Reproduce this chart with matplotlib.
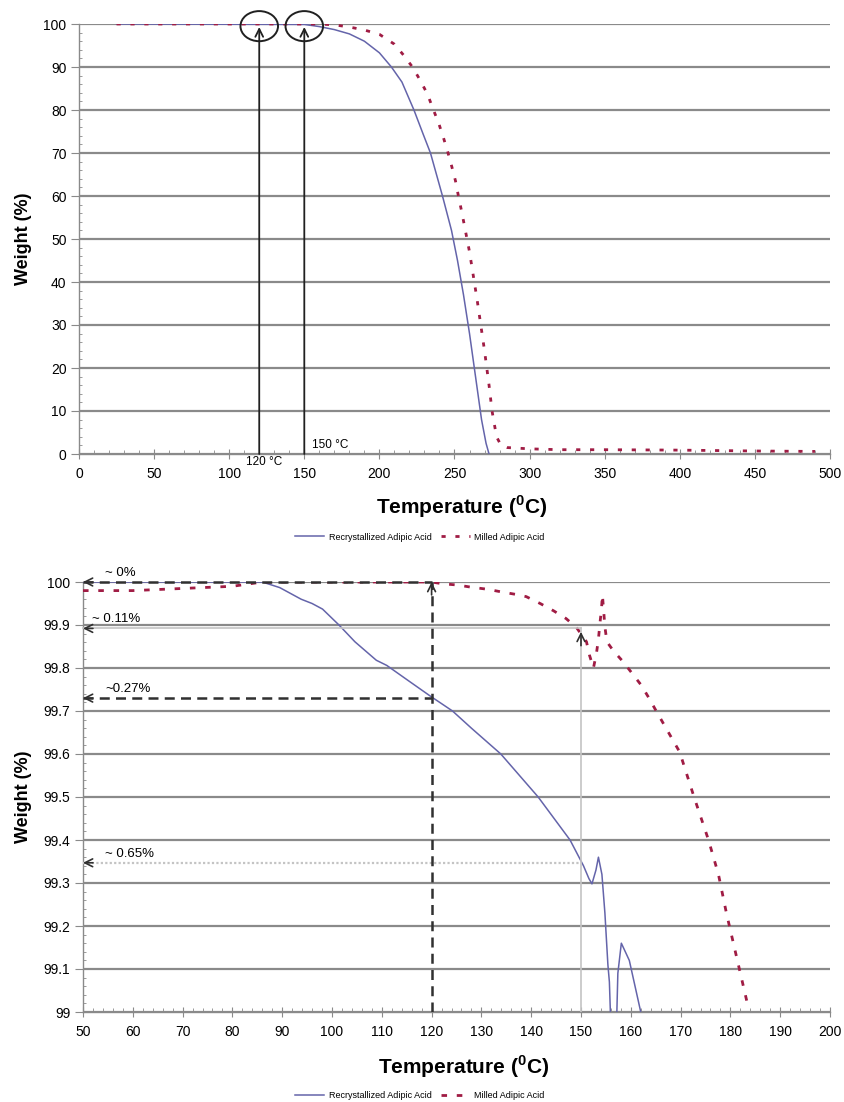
import matplotlib
matplotlib.use("Agg")
import matplotlib.pyplot as plt
from matplotlib.patches import Ellipse
from matplotlib.ticker import MultipleLocator

# ---- full scan (top panel) ----
t_recr = [25, 150, 160, 170, 180, 190, 200, 208, 215, 223, 229, 234, 242, 248,
          252, 256, 260, 264, 268, 271, 273]
w_recr = [100, 99.9, 99.4, 98.7, 97.7, 96, 93.3, 90, 86.5, 80, 74.5, 70, 60, 52,
          45, 37, 28, 18, 8, 2.5, 0]

t_mill = [25, 160, 170, 180, 190, 200, 210, 216, 222, 227, 232, 236, 239.4, 242.7,
          245.7, 248.3, 250.6, 252.6, 255, 260, 265, 270, 273, 275, 278, 281, 285,
          300, 320, 350, 400, 450, 490]
w_mill = [100, 100, 99.8, 99.3, 98.6, 97.6, 95.3, 92.8, 90, 87, 83.7, 80, 77, 73.5,
          70, 66.7, 63.6, 60, 56, 47, 36, 24, 16, 10, 4, 2, 1.5,
          1.2, 1.0, 1.0, 0.9, 0.7, 0.6]

onset_temps = [120, 150]
onset_labels = ["120 \u00b0C", "150 \u00b0C"]

# ---- zoomed scan (bottom panel) ----
tz_recr = [50, 86, 89.5, 93.8, 96, 98.1, 101.4, 104.6, 108.9, 111, 115.4, 119.7,
           124.2, 128, 133.9, 141.4, 147.8, 150.5, 151.6, 152.2, 153.0, 153.5,
           154.2, 154.8, 155.4, 155.7, 155.9, 156.3, 157.0, 157.2, 157.4, 158.1,
           159.7, 162]
wz_recr = [100, 100, 99.987, 99.96, 99.95, 99.937, 99.90, 99.861, 99.818, 99.806,
           99.77, 99.735, 99.70, 99.66, 99.60, 99.50, 99.40, 99.34, 99.31, 99.298,
           99.33, 99.36, 99.32, 99.23, 99.11, 99.07, 99.0, 98.5, 98.5, 99.0, 99.09,
           99.16, 99.12, 99.0]

tz_mill = [50, 60, 70, 80, 86, 120, 122.1, 125.2, 127.9, 131.3, 134, 137, 139,
           141.8, 144.5, 147, 149.1, 151.1, 151.7, 152.5, 153.1, 153.5, 153.8,
           154.1, 154.3, 154.8, 155.2, 156.5, 158.5, 160.3, 162.1, 163.6, 165.1,
           169.8, 172.7, 175.6, 177.6, 179.2, 180.8, 182.2, 183.6]
wz_mill = [99.98, 99.98, 99.985, 99.99, 100, 100, 99.996, 99.993, 99.988, 99.983,
           99.977, 99.971, 99.966, 99.95, 99.933, 99.915, 99.894, 99.861, 99.83,
           99.80, 99.834, 99.867, 99.904, 99.935, 99.97, 99.896, 99.861, 99.84,
           99.814, 99.787, 99.76, 99.731, 99.70, 99.605, 99.50, 99.40, 99.32,
           99.23, 99.15, 99.08, 99.01]

loss_levels = [100.0, 99.892, 99.73, 99.347]
loss_temps = [120, 150, 120, 150]
loss_labels = ["~ 0%", "~ 0.11%", "~0.27%", "~ 0.65%"]

BLUE = "#6464aa"
RED = "#a01c44"
GRID = "#8a8a8a"

plt.rcParams["font.family"] = ["Liberation Sans", "DejaVu Sans"]

fig = plt.figure(figsize=(8.45, 11.02), dpi=100)
ax1 = fig.add_axes([79 / 845, 1 - 454 / 1102, 751 / 845, 430 / 1102])
ax2 = fig.add_axes([83 / 845, 1 - 1012 / 1102, 747 / 845, 430 / 1102])


def style_axes(ax, xmaj, xmin, ymaj, ymin):
    for s in ("top", "right"):
        ax.spines[s].set_visible(False)
    for s in ("left", "bottom"):
        ax.spines[s].set_color(GRID)
        ax.spines[s].set_linewidth(1.0)
    ax.xaxis.set_major_locator(MultipleLocator(xmaj))
    ax.xaxis.set_minor_locator(MultipleLocator(xmin))
    ax.yaxis.set_major_locator(MultipleLocator(ymaj))
    ax.yaxis.set_minor_locator(MultipleLocator(ymin))
    ax.tick_params(axis="x", which="major", direction="inout", length=7,
                   color=GRID, labelsize=10, pad=6)
    ax.tick_params(axis="x", which="minor", direction="in", length=3, color=GRID)
    ax.tick_params(axis="y", which="major", direction="out", length=6,
                   color=GRID, labelsize=10, pad=3)
    ax.tick_params(axis="y", which="minor", direction="in", length=2.5, color=GRID)
    ax.yaxis.grid(True, which="major", color=GRID, lw=1.6)
    ax.set_axisbelow(True)


# ---------------- top panel ----------------
style_axes(ax1, 50, 10, 10, 2)
ax1.set_xlim(0, 500)
ax1.set_ylim(0, 100)
ax1.plot(t_recr, w_recr, color=BLUE, lw=1.1, label="Recrystallized Adipic Acid", zorder=3)
ax1.plot(t_mill, w_mill, color=RED, lw=2.0, ls=(0, (1.5, 3.5)),
         label="Milled Adipic Acid", zorder=4)

for t in onset_temps:
    ax1.annotate("", xy=(t, 99.3), xytext=(t, 0),
                 arrowprops=dict(arrowstyle="->", color="#202020", lw=1.3,
                                 mutation_scale=14, shrinkA=0, shrinkB=0), zorder=5)
    ax1.add_patch(Ellipse((t, 99.5), 25, 7, fill=False, ec="#202020", lw=1.4,
                          zorder=5, clip_on=False))

ax1.text(onset_temps[0] + 3, -1.9, onset_labels[0], fontsize=8.5, ha="center", va="center")
ax1.text(onset_temps[1] + 17.5, 2.1, onset_labels[1], fontsize=8.5, ha="center", va="center")

ax1.set_xlabel(r"Temperature ($^{\mathregular{0}}$C)", fontsize=15, fontweight="bold")
ax1.xaxis.set_label_coords(0.51, -0.123)
ax1.xaxis.label.set_va("center")
ax1.set_ylabel("Weight (%)", fontsize=13, fontweight="bold")
ax1.yaxis.set_label_coords(-0.074, 0.5)
ax1.yaxis.label.set_va("center")
ax1.legend(loc="center", bbox_to_anchor=(0.497, 1 - 537 / 1102),
           bbox_transform=fig.transFigure, ncol=2, frameon=False, fontsize=6.5,
           handlelength=3.2, columnspacing=1.0, handletextpad=0.5)

# ---------------- bottom panel ----------------
style_axes(ax2, 10, 2, 0.1, 0.02)
ax2.set_xlim(50, 200)
ax2.set_ylim(99, 100)
ax2.yaxis.set_major_formatter(plt.FuncFormatter(lambda v, p: f"{v:g}"))
ax2.plot(tz_recr, wz_recr, color=BLUE, lw=1.1, label="Recrystallized Adipic Acid", zorder=3)
ax2.plot(tz_mill, wz_mill, color=RED, lw=2.0, ls=(0, (2, 3.5)),
         label="Milled Adipic Acid", zorder=4)

line_styles = [
    dict(color="#303030", lw=1.8, ls=(0, (4, 2.5))),
    dict(color="#c4c4c4", lw=1.2, ls="-"),
    dict(color="#303030", lw=1.8, ls=(0, (4, 2.5))),
    dict(color="#c4c4c4", lw=1.6, ls=(0, (1, 1))),
]
head = dict(arrowstyle="->", color="#303030", lw=1.2, mutation_scale=14,
            shrinkA=0, shrinkB=0)
for lvl, t, lab, st in zip(loss_levels, loss_temps, loss_labels, line_styles):
    ax2.plot([50, t], [lvl, lvl], zorder=5, clip_on=False, **st)
    ax2.annotate("", xy=(50, lvl), xytext=(52, lvl), arrowprops=head, zorder=6,
                 annotation_clip=False)
    ax2.text(54.5 if lab != "~ 0.11%" else 51.8, lvl + 0.021, lab, fontsize=9.5,
             ha="left", va="center")

# vertical guides at 120 and 150 °C
ax2.plot([loss_temps[0]] * 2, [99, loss_levels[0]], zorder=5, **line_styles[0])
ax2.annotate("", xy=(loss_temps[0], loss_levels[0]), xytext=(loss_temps[0], loss_levels[0] - 0.03),
             arrowprops=head, zorder=6, annotation_clip=False)
ax2.plot([loss_temps[1]] * 2, [99, loss_levels[1]], zorder=5, color="#c4c4c4", lw=1.2)
ax2.annotate("", xy=(loss_temps[1], loss_levels[1] - 0.008),
             xytext=(loss_temps[1], loss_levels[1] - 0.04), arrowprops=head, zorder=6)

ax2.set_xlabel(r"Temperature ($^{\mathregular{0}}$C)", fontsize=15, fontweight="bold")
ax2.xaxis.set_label_coords(0.51, (1 - 1067 / 1102 - (1 - 1012 / 1102)) / (430 / 1102))
ax2.xaxis.label.set_va("center")
ax2.set_ylabel("Weight (%)", fontsize=13, fontweight="bold")
ax2.yaxis.set_label_coords(-0.080, 0.5)
ax2.yaxis.label.set_va("center")
ax2.legend(loc="center", bbox_to_anchor=(0.497, 1 - 1096 / 1102),
           bbox_transform=fig.transFigure, ncol=2, frameon=False, fontsize=6.5,
           handlelength=3.2, columnspacing=1.0, handletextpad=0.5)

fig.savefig("out.png", dpi=100)
